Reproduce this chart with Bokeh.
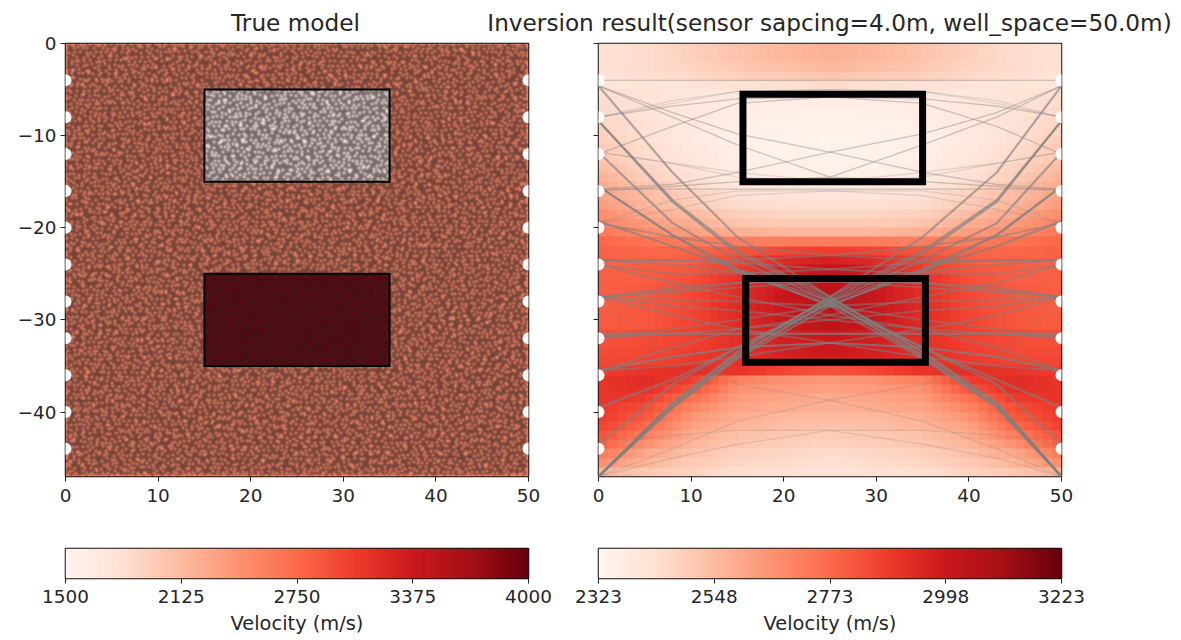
import numpy as np
from bokeh.core.properties import value
from bokeh.embed import file_html
from bokeh.layouts import column, row
from bokeh.models import FixedTicker, LinearColorMapper, Range1d
from bokeh.palettes import Reds256
from bokeh.plotting import figure
from bokeh.resources import INLINE

FONT = "DejaVu Sans"
TICK_SIZE = "18.4px"
LABEL_SIZE = "19.4px"
TITLE_SIZE = "23.2px"
INK = "#262626"

titles = ["True model", "Inversion result(sensor sapcing=4.0m, well_space=50.0m)"]
x_ticks = [0, 10, 20, 30, 40, 50]
y_ticks = [0, -10, -20, -30, -40]
y_tick_labels = ["0", "\u221210", "\u221220", "\u221230", "\u221240"]
sensor_depths = [-4, -8, -12, -16, -20, -24, -28, -32, -36, -40, -44]
true_v_background = 2500
true_v_low = 1500
true_v_high = 4000
true_low_box = [15, 35, -15, -5]
true_high_box = [15, 35, -35, -25]
result_low_box = [15.6, 35.0, -15.0, -5.5]
result_high_box = [15.9, 35.3, -34.6, -25.5]
cbar_left_ticks = [1500, 2125, 2750, 3375, 4000]
cbar_right_ticks = [2323, 2548, 2773, 2998, 3223]
cbar_label = "Velocity (m/s)"

# percent of the right colour range, by depth row, at these distances (mirrored about x=25)
pct_x = [0.5, 5, 10, 15, 20, 25]
pct_rows = [
    [12, 14, 18, 22, 26, 28], [12, 14, 18, 22, 26, 28], [12, 14, 17, 21, 24, 26], [10, 13, 15, 18, 20, 22],
    [10, 10, 11, 12, 13, 14], [13, 11, 9, 8, 7, 7], [14, 11, 8, 6, 5, 5], [15, 11, 8, 5, 4, 3],
    [16, 12, 8, 4, 3, 2], [17, 12, 7, 4, 2, 2], [18, 13, 7, 3, 2, 1], [20, 14, 8, 4, 2, 2],
    [21, 15, 9, 4, 2, 2], [24, 17, 11, 5, 3, 3], [27, 19, 12, 6, 4, 4], [30, 22, 15, 9, 7, 7],
    [32, 25, 18, 12, 10, 10], [34, 27, 20, 14, 13, 13], [38, 31, 25, 18, 16, 16], [41, 35, 29, 22, 20, 20],
    [45, 40, 34, 28, 26, 26], [50, 47, 44, 43, 44, 45], [52, 51, 51, 55, 60, 62], [52, 52, 53, 60, 68, 72],
    [52, 53, 55, 62, 72, 78], [53, 53, 57, 66, 75, 80], [53, 54, 58, 67, 75, 80], [53, 54, 59, 67, 76, 81],
    [53, 55, 59, 68, 76, 81], [54, 55, 60, 68, 75, 80], [54, 55, 60, 68, 75, 80], [57, 58, 61, 67, 72, 76],
    [57, 58, 61, 67, 72, 75], [58, 59, 62, 67, 72, 75], [59, 60, 63, 66, 70, 72], [62, 65, 67, 65, 60, 56],
    [65, 68, 62, 43, 38, 36], [65, 67, 56, 38, 35, 33], [65, 63, 48, 35, 32, 30], [63, 58, 42, 32, 30, 28],
    [62, 55, 37, 29, 26, 25], [60, 50, 33, 27, 24, 23], [56, 44, 30, 23, 21, 19], [52, 38, 27, 21, 19, 17],
    [44, 31, 23, 18, 16, 14], [38, 27, 20, 16, 14, 12], [27, 21, 17, 13, 12, 10],
]

ray_x = [0, 8, 15, 25, 35, 43, 50]
fan_rays = [
    [-4.6, -14, -21, -27.5, -33.5, -39, -47],
    [-8.4, -17, -22.5, -27.5, -33.5, -39, -47],
    [-11.8, -19.5, -23.5, -28, -33.8, -39.3, -47],
    [-15.5, -20.8, -24.5, -28, -34, -39.5, -47],
    [-19.3, -22, -24.5, -28.5, -34.2, -39.5, -47],
    [-8.4, -17.2, -22.8, -27.8, -33, -37, -43.5],
    [-15.5, -20.8, -24.8, -28.3, -33, -36.5, -39.5],
]
mid_rays = [
    [-23.5, -23.6, -23.8, -24.5, -25, -25, -24],
    [-27.5, -27, -26.5, -25.8, -26, -26.8, -27.5],
    [-23.5, -24, -24.8, -25.5, -26, -26.5, -27.5],
    [-27.5, -28.5, -29, -30, -31, -31.5, -32],
    [-31.5, -31.5, -31.5, -31.5, -31.5, -31.5, -31.5],
    [-35.5, -34, -33, -32.5, -33, -34, -35.5],
    [-35.5, -35, -34, -32.5, -31, -29.5, -27.5],
    [-32, -31, -30, -28.5, -28, -27.8, -27.5],
    [-24, -26, -27.5, -29.5, -31, -33, -35.5],
    [-19.5, -21, -22, -23, -23.5, -23.5, -23.5],
]
faint_rays = [
    [-4, -4, -4, -4, -4, -4, -4],
    [-8, -6.5, -5.2, -5, -5.2, -6.2, -8],
    [-4.6, -7.5, -9.8, -11.8, -14, -15.3, -15.8],
    [-15.8, -15.3, -14, -11.8, -9.8, -7.5, -4.6],
    [-4.6, -8, -11, -14.5, -15, -15.5, -16],
    [-16, -15.5, -15, -14.5, -11, -8, -4.6],
    [-8, -6.8, -6, -5.8, -6.5, -9, -12],
    [-12, -9, -6.5, -5.8, -6, -6.8, -8],
    [-11.8, -13, -14, -15, -14.5, -13, -11.8],
    [-15.8, -15.8, -15.8, -15.8, -15.8, -15.8, -15.8],
    [-19.5, -17, -16, -16, -16.5, -18, -19.5],
    [-47, -45, -43.5, -42, -42, -42.5, -43.5],
    [-28, -34, -37, -38.7, -41, -44, -47],
]


def reds_rgb(v, lo, hi):
    pal = np.array([[int(c[i:i + 2], 16) for i in (1, 3, 5)] for c in Reds256[::-1]], dtype=float)
    idx = np.clip((v - lo) / (hi - lo), 0, 1) * 255
    return pal[idx.astype(int)]


# ---- true model: the mesh is shown as a fine speckle over the velocity model
nx, ny = 463, 433
xs = (np.arange(nx) + 0.5) / nx * 50
ys = (np.arange(ny) + 0.5) / ny * -47
X, Y = np.meshgrid(xs, ys)
V = np.full(X.shape, float(true_v_background))
for box, v in ((true_low_box, true_v_low), (true_high_box, true_v_high)):
    V[(X >= box[0]) & (X <= box[1]) & (Y >= box[2]) & (Y <= box[3])] = v
base = reds_rgb(V, 1500, 4000)
# hex lattice of mesh cells, each nudged by a fixed hash of its index, then softened
pitch = 5.0
ii, jj = np.meshgrid(np.arange(int(nx / pitch) + 2), np.arange(int(ny / (pitch * 0.866)) + 2))
jx = (np.sin(ii * 12.9898 + jj * 78.233) * 43758.5453) % 1 - 0.5
jy = (np.sin(ii * 39.3468 + jj * 11.135) * 24634.6345) % 1 - 0.5
cx = (ii + 0.5 * (jj % 2) + 0.7 * jx) * pitch
cy = (jj + 0.7 * jy) * pitch * 0.866
field = np.zeros((ny, nx))
np.add.at(field, (np.clip(cy.astype(int), 0, ny - 1), np.clip(cx.astype(int), 0, nx - 1)), 1.0)
fy = np.fft.fftfreq(ny)[:, None]
fx = np.fft.rfftfreq(nx)[None, :]
sigma = 1.15
f = np.fft.irfft2(np.fft.rfft2(field) * np.exp(-2 * (np.pi * sigma) ** 2 * (fx ** 2 + fy ** 2)), s=(ny, nx))
f = f / np.percentile(f, 98)
d = np.clip(0.66 - 0.52 * f, 0.1, 0.75)[..., None]
edge = np.array([48, 32, 32.0])
rgb = base * (1 - d) + edge * d
img = np.empty((ny, nx), dtype=np.uint32)
view = img.view(dtype=np.uint8).reshape((ny, nx, 4))
view[..., :3] = np.clip(rgb[::-1], 0, 255).astype(np.uint8)
view[..., 3] = 255


def base_fig(width, height, left, right, top, bottom, xr, yr):
    p = figure(width=width, height=height, x_range=xr, y_range=yr, output_backend="svg",
               toolbar_location=None, min_border_left=left, min_border_right=right,
               min_border_top=top, min_border_bottom=bottom, tools="")
    p.grid.visible = False
    p.outline_line_color = "#111111"
    p.outline_line_width = 1.5
    p.background_fill_color = None
    p.border_fill_color = None
    for ax in (p.xaxis[0], p.yaxis[0]):
        ax.major_tick_in = 0
        ax.major_tick_out = 5
        ax.minor_tick_in = 0
        ax.minor_tick_out = 0
        ax.major_tick_line_color = INK
        ax.axis_line_color = None
        ax.major_label_text_font = FONT
        ax.major_label_text_font_size = TICK_SIZE
        ax.major_label_text_color = INK
    p.xaxis[0].major_label_standoff = 7
    p.yaxis[0].major_label_standoff = 4
    return p


def panel(width, left, right, show_y):
    p = base_fig(width, 482, left, right, 9, 40, Range1d(0, 50), Range1d(-47, 0))
    p.xaxis[0].ticker = FixedTicker(ticks=x_ticks)
    p.yaxis[0].ticker = FixedTicker(ticks=y_ticks)
    labels = y_tick_labels if show_y else [""] * len(y_ticks)
    p.yaxis[0].major_label_overrides = dict(zip(y_ticks, labels))
    return p


def sensors(p):
    p.scatter([0] * len(sensor_depths), sensor_depths, size=12, color="white", line_color=None)
    p.scatter([50] * len(sensor_depths), sensor_depths, size=12, color="white", line_color=None)


def outline(p, box, w):
    p.quad(left=[box[0]], right=[box[1]], bottom=[box[2]], top=[box[3]],
           fill_color=None, line_color="black", line_width=w, line_join="miter")


left_p = panel(552, 65, 24, True)
left_p.image_rgba(image=[img], x=0, y=-47, dw=50, dh=47)
outline(left_p, true_low_box, 2)
outline(left_p, true_high_box, 2)
sensors(left_p)

right_p = panel(600, 46, 91, False)
mapper = LinearColorMapper(palette=Reds256[::-1], low=cbar_right_ticks[0], high=cbar_right_ticks[-1])
cells_x = np.arange(50) + 0.5
full_x = pct_x + [50 - x for x in pct_x[-2::-1]]
grid = np.array([np.interp(cells_x, full_x, r + r[-2::-1]) for r in pct_rows])
grid = cbar_right_ticks[0] + grid / 100 * (cbar_right_ticks[-1] - cbar_right_ticks[0])
right_p.image(image=[grid[::-1]], x=0, y=-47, dw=50, dh=47, color_mapper=mapper)
for rays, a, w in ((faint_rays, 0.22, 1.3), (mid_rays, 0.5, 1.9), (fan_rays, 0.62, 2.2)):
    for group in (rays, [r[::-1] for r in rays]):
        right_p.multi_line([ray_x] * len(group), group, line_color="#808080", line_alpha=a, line_width=w)
sensors(right_p)
outline(right_p, result_low_box, 7)
outline(right_p, result_high_box, 7)


def colorbar(width, left, right, ticks):
    p = base_fig(width, 122, left, right, 32, 60, Range1d(ticks[0], ticks[-1]), Range1d(0, 1))
    p.xaxis[0].ticker = FixedTicker(ticks=ticks)
    p.xaxis[0].major_label_standoff = 6
    p.xaxis[0].axis_label = cbar_label
    p.xaxis[0].axis_label_text_font = FONT
    p.xaxis[0].axis_label_text_font_size = LABEL_SIZE
    p.xaxis[0].axis_label_text_font_style = "normal"
    p.xaxis[0].axis_label_text_color = INK
    p.xaxis[0].axis_label_standoff = 6
    p.yaxis[0].visible = False
    cm = LinearColorMapper(palette=Reds256[::-1], low=0, high=255)
    p.image(image=[np.arange(256, dtype=float).reshape(1, 256)], x=ticks[0], y=0,
            dw=ticks[-1] - ticks[0], dh=1, color_mapper=cm)
    return p


cb_left = colorbar(552, 65, 24, cbar_left_ticks)
cb_right = colorbar(600, 46, 91, cbar_right_ticks)

strip = figure(width=1178, height=37, x_range=Range1d(0, 1178), y_range=Range1d(0, 37),
               output_backend="svg", toolbar_location=None, min_border=0, tools="")
strip.axis.visible = False
strip.grid.visible = False
strip.outline_line_color = None
strip.text(x=[295, 829], y=[15, 15], text=titles, text_align="center", text_baseline="middle",
           text_font=value(FONT), text_font_size=TITLE_SIZE, text_color=INK)

page = column(strip, row(left_p, right_p, margin=(-3, 0, 0, 0)), row(cb_left, cb_right))
open("out.html", "w").write(file_html(page, INLINE))
